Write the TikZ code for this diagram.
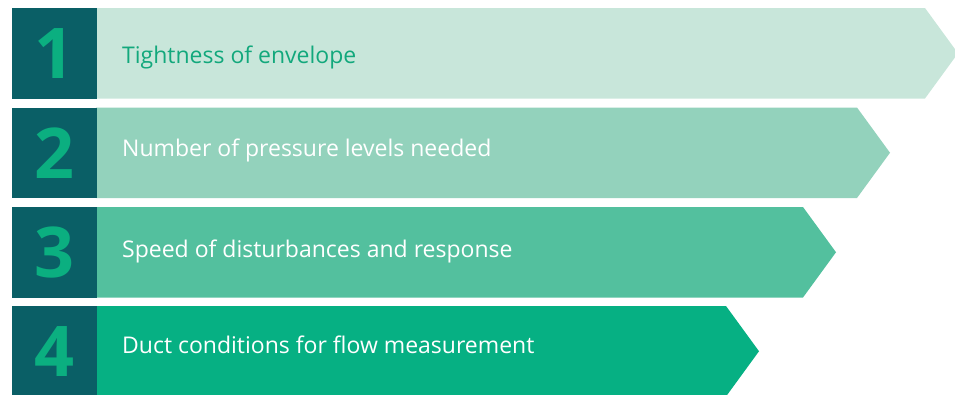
\documentclass[tikz,border=0pt]{standalone}
\usepackage{fontspec}
\setmainfont{Open Sans}
\definecolor{tealdark}{HTML}{0A5F66}
\definecolor{numgreen}{HTML}{0BAF80}
\definecolor{barA}{HTML}{C8E6DA}
\definecolor{barB}{HTML}{93D2BC}
\definecolor{barC}{HTML}{53C09E}
\definecolor{barD}{HTML}{06B083}
\definecolor{textA}{HTML}{12A87C}
\begin{document}
\begin{tikzpicture}[x=1pt,y=-1pt,
  numbox/.style={fill=tealdark},
  numtext/.style={text=numgreen,font=\fontsize{70}{70}\selectfont\bfseries,inner sep=0pt},
  labeltext/.style={font=\fontsize{23}{26}\selectfont,inner sep=0pt,anchor=base west}]
\useasboundingbox (0,0) rectangle (955,394);
\foreach \i/\top/\cx/\base/\col/\tcol/\txt in {
  1/8/925/63.3/barA/textA/{Tightness of envelope},
  2/107.5/857/156/barB/white/{Number of pressure levels needed},
  3/207/803/257.3/barC/white/{Speed of disturbances and response},
  4/306/726/353.7/barD/white/{Duct conditions for flow measurement}}{
  % chevron bar
  \fill[\col] (96,\top) -- (\cx,\top) -- (\cx+33,\top+45.25) -- (\cx,\top+90.5) -- (96,\top+90.5) -- cycle;
  % number square
  \fill[numbox] (12,\top) rectangle (96.5,\top+90.5);
  \node[numtext] (n\i) at (54,\top+45.25) {\i};
  \node[labeltext,text=\tcol] (t\i) at (122,\base) {\txt};
}
\end{tikzpicture}
\end{document}
